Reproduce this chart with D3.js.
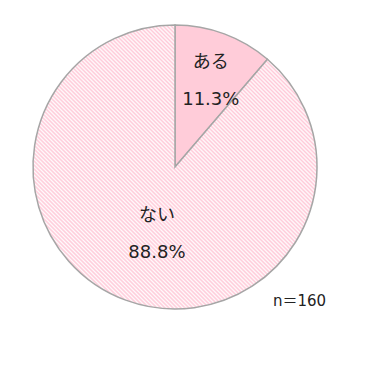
<!DOCTYPE html>
<html>
<head>
<meta charset="utf-8">
<script src="https://cdn.jsdelivr.net/npm/d3@7"></script>
<style>
  html, body { margin: 0; padding: 0; background: #fff; }
  text { font-family: "DejaVu Sans", "Noto Sans CJK JP", sans-serif; fill: #222; }
</style>
</head>
<body>
<div id="chart"></div>
<script>
const categories = ['ある', 'ない'];
const values = [11.3, 88.8];
const labels = ['11.3%', '88.8%'];
const note = 'n＝160';

const width = 367;
const height = 367;
const cx = 175;
const cy = 167;
const radius = 142;

const svg = d3
  .select('#chart')
  .append('svg')
  .attr('width', width)
  .attr('height', height);

// downward diagonal hatch for the large slice
const defs = svg.append('defs');
const pattern = defs
  .append('pattern')
  .attr('id', 'hatch')
  .attr('patternUnits', 'userSpaceOnUse')
  .attr('width', 2.83)
  .attr('height', 4)
  .attr('patternTransform', 'rotate(-45)');
pattern.append('rect').attr('width', 2.83).attr('height', 4).attr('fill', '#fff');
pattern
  .append('rect')
  .attr('width', 1.5)
  .attr('height', 4)
  .attr('fill', '#ffc8d7');

const fills = ['#ffccd9', 'url(#hatch)'];

const pie = d3.pie().sort(null).value((d) => d);
const arc = d3.arc().innerRadius(0).outerRadius(radius);

const g = svg.append('g').attr('transform', `translate(${cx},${cy})`);

g.selectAll('.slice')
  .data(pie(values))
  .join('path')
  .attr('class', 'slice')
  .attr('d', arc)
  .attr('fill', (d, i) => fills[i])
  .attr('stroke', '#a6a6a6')
  .attr('stroke-width', 1.5);

// label anchors sit on the slice centroids
const labelRadius = [103, 52];
const nameDy = [-2, 5];

pie(values).forEach((d, i) => {
  const r = labelRadius[i];
  const c = d3.arc().innerRadius(r).outerRadius(r).centroid(d);
  const lg = g.append('g').attr('transform', `translate(${c})`);
  lg.append('text')
    .attr('text-anchor', 'middle')
    .attr('y', nameDy[i])
    .style('font-size', '18px')
    .text(categories[i]);
  lg.append('text')
    .attr('text-anchor', 'middle')
    .attr('y', nameDy[i] + 37)
    .style('font-size', '18px')
    .text(labels[i]);
});

svg
  .append('text')
  .attr('x', 273)
  .attr('y', 306)
  .style('font-size', '15px')
  .text(note);
</script>
</body>
</html>
